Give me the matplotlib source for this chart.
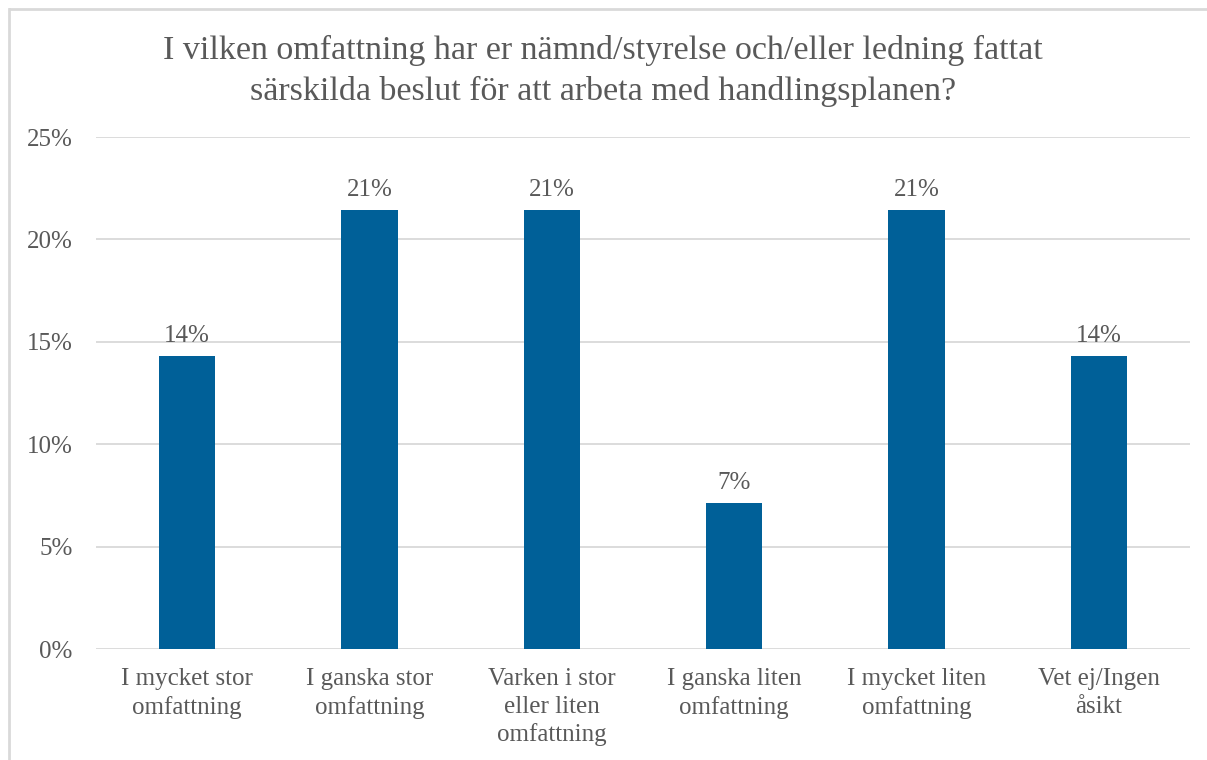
import numpy as np
import matplotlib
matplotlib.use("Agg")
import matplotlib.pyplot as plt
from matplotlib.lines import Line2D

categories = ["I mycket stor\nomfattning", "I ganska stor\nomfattning",
              "Varken i stor\neller liten\nomfattning", "I ganska liten\nomfattning",
              "I mycket liten\nomfattning", "Vet ej/Ingen\nåsikt"]
values = [14.29, 21.43, 21.43, 7.14, 21.43, 14.29]
labels = ["14%", "21%", "21%", "7%", "21%", "14%"]
yticks = [0, 5, 10, 15, 20, 25]

txt = "#595959"
plt.rcParams['font.family'] = ['Liberation Serif', 'DejaVu Serif']

W, H = 1207, 760
fig = plt.figure(figsize=[W / 100, H / 100], dpi=100)
ax = fig.add_axes([96 / W, 1 - 649 / H, (1190 - 96) / W, (649 - 137) / H])

x = np.arange(len(categories))
ax.bar(x, values, width=0.31, color="#006098", zorder=3)
for xi, v, l in zip(x, values, labels):
    ax.text(xi, v + 0.45, l, ha='center', va='bottom', fontsize=18, color=txt)

ax.set_xlim(-0.5, len(categories) - 0.5)
ax.set_ylim(0, 25)
ax.set_yticks(yticks)
ax.set_yticklabels([f"{t}%" for t in yticks], fontsize=18, color=txt)
ax.set_xticks(x)
ax.set_xticklabels(categories, fontsize=18, color=txt, linespacing=1.3)
ax.tick_params(length=0)
ax.tick_params(axis='y', pad=17)
ax.tick_params(axis='x', pad=14)
ax.grid(axis='y', color="#d9d9d9", linewidth=1.3, zorder=0)
for s in ax.spines.values():
    s.set_visible(False)

fig.text(603 / W, 1 - 71 / H,
         "I vilken omfattning har er nämnd/styrelse och/eller ledning fattat\n"
         "särskilda beslut för att arbeta med handlingsplanen?",
         ha='center', va='center', fontsize=24.5, color=txt, linespacing=1.4)

# outer frame (cropped at right and bottom)
fig.add_artist(Line2D([10 / W, 1], [1 - 9 / H, 1 - 9 / H], color="#d9d9d9", linewidth=2))
fig.add_artist(Line2D([9 / W, 9 / W], [0, 1 - 9 / H], color="#d9d9d9", linewidth=2))

fig.savefig("out.png", dpi=100)
